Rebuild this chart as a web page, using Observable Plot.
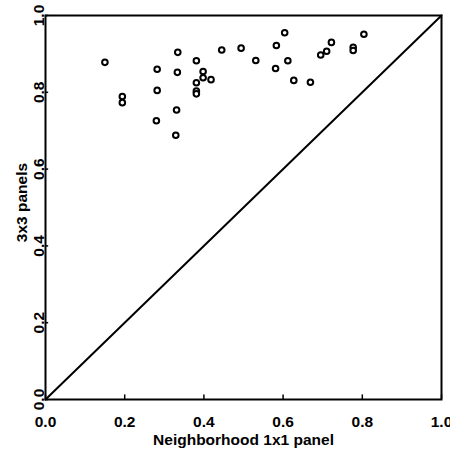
<!DOCTYPE html>
<html>
<head>
<meta charset="utf-8">
<script src="https://cdn.jsdelivr.net/npm/d3@7"></script>
<script src="https://cdn.jsdelivr.net/npm/@observablehq/plot@0.6"></script>
<style>
  html, body { margin: 0; padding: 0; background: #fff; }
</style>
</head>
<body>
<div id="chart"></div>
<script>
// Neighborhood 1x1 panel (x) vs 3x3 panels (y)
const neighborhood = [0.150, 0.194, 0.194, 0.282, 0.282, 0.280, 0.334, 0.333, 0.331, 0.329,
  0.381, 0.381, 0.381, 0.381, 0.398, 0.398, 0.418, 0.445, 0.494, 0.531,
  0.583, 0.604, 0.581, 0.612, 0.627, 0.669, 0.695, 0.710, 0.722, 0.777,
  0.777, 0.804];
const panels3x3 = [0.878, 0.789, 0.773, 0.860, 0.805, 0.726, 0.904, 0.852, 0.754, 0.688,
  0.882, 0.825, 0.803, 0.796, 0.854, 0.838, 0.833, 0.910, 0.915, 0.883,
  0.922, 0.955, 0.862, 0.882, 0.831, 0.826, 0.897, 0.907, 0.930, 0.917,
  0.909, 0.951];
const ticks = [0, 0.2, 0.4, 0.6, 0.8, 1.0];
const diagonal = [0, 1];
const xLabel = "Neighborhood 1x1 panel";
const yLabel = "3x3 panels";

const points = neighborhood.map((x, i) => ({x, y: panels3x3[i]}));
const fmt = d3.format(".1f");

const chart = Plot.plot({
  width: 450,
  height: 455,
  marginLeft: 45,
  marginRight: 9,
  marginTop: 15,
  marginBottom: 56,
  style: {fontFamily: "'Liberation Sans', Arial, sans-serif", fontSize: "15.5px", fontWeight: "bold", color: "#000", background: "#fff"},
  x: {domain: [0, 1]},
  y: {domain: [0, 1]},
  marks: [
    Plot.frame({stroke: "#000", strokeWidth: 2}),
    Plot.ruleX(ticks, {x: d => d, y1: 0, y2: 0.012, stroke: "#000", strokeWidth: 1.5}),
    Plot.ruleY(ticks, {y: d => d, x1: 0, x2: 0.008, stroke: "#000", strokeWidth: 1.5}),
    Plot.axisX({ticks, tickFormat: fmt, tickSize: 0, tickPadding: 16, fill: "#000", label: xLabel, labelAnchor: "center", labelOffset: 45, labelArrow: "none"}),
    Plot.axisY({ticks, tickSize: 0, tickFormat: () => "", label: null}),
    Plot.text(ticks, {y: d => d, text: fmt, frameAnchor: "left", rotate: -90, textAnchor: "middle", lineAnchor: "middle", dx: -6, fill: "#000", fontSize: 15.5, fontWeight: "bold"}),
    Plot.text([yLabel], {text: d => d, frameAnchor: "left", rotate: -90, textAnchor: "middle", lineAnchor: "middle", dx: -23, dy: -5, fill: "#000", fontSize: 15.5, fontWeight: "bold"}),
    Plot.line(diagonal, {x: d => d, y: d => d, stroke: "#000", strokeWidth: 2}),
    Plot.dot(points, {x: "x", y: "y", r: 2.8, stroke: "#000", strokeWidth: 2, fill: "#fff"})
  ]
});
document.getElementById("chart").appendChild(chart);
</script>
</body>
</html>
